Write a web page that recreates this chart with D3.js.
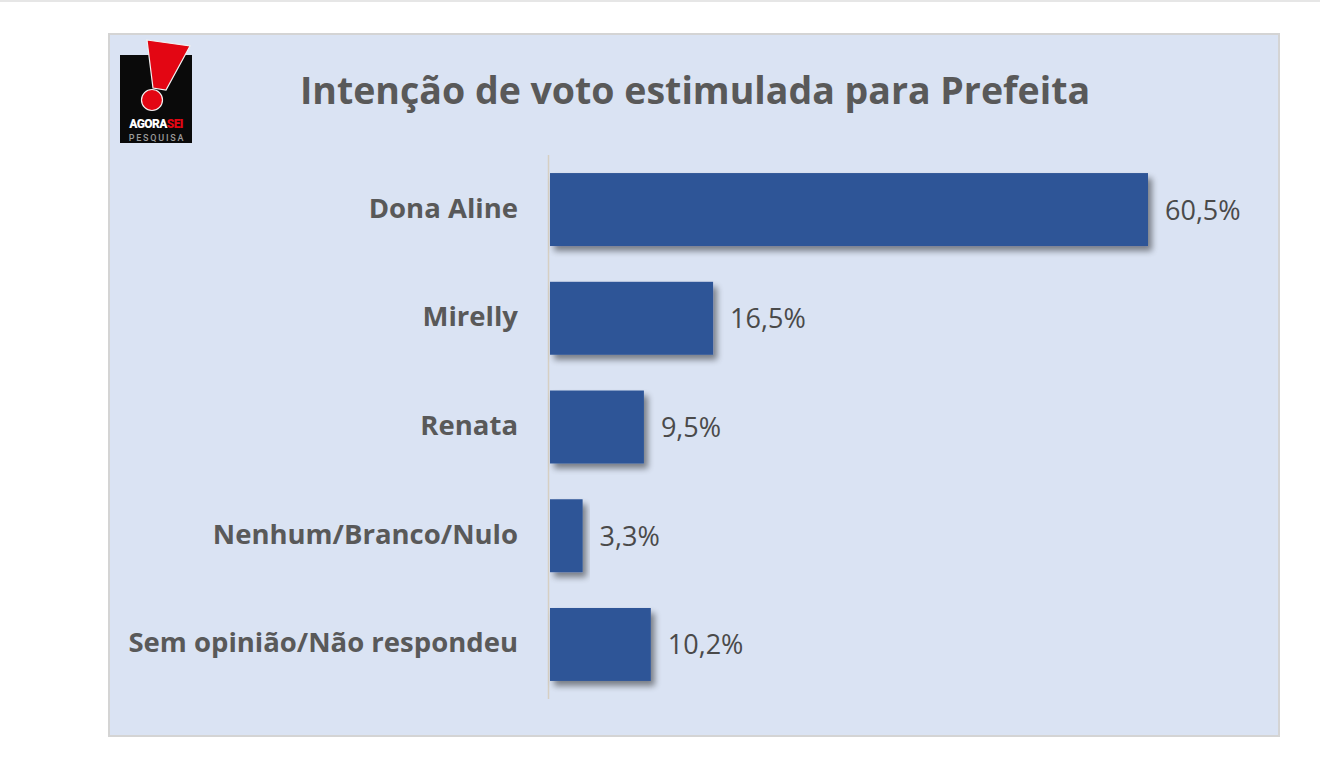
<!DOCTYPE html>
<html><head><meta charset="utf-8">
<script src="https://cdn.jsdelivr.net/npm/d3@7/dist/d3.min.js"></script>
<style>html,body{margin:0;padding:0;background:#fff;}svg{display:block;}</style>
</head><body>
<script>
const categories = ["Dona Aline","Mirelly","Renata","Nenhum/Branco/Nulo","Sem opinião/Não respondeu"];
const values = [60.5,16.5,9.5,3.3,10.2];
const valueLabels = ["60,5%","16,5%","9,5%","3,3%","10,2%"];
const title = "Intenção de voto estimulada para Prefeita";

const W=1320,H=765;
const svg=d3.select("body").append("svg").attr("width",W).attr("height",H);
const defs=svg.append("defs");
const f=defs.append("filter").attr("id","sh").attr("x","-10%").attr("y","-10%").attr("width","130%").attr("height","140%");
f.append("feGaussianBlur").attr("in","SourceAlpha").attr("stdDeviation",3);
f.append("feOffset").attr("dx",4).attr("dy",5).attr("result","b");
f.append("feComponentTransfer").append("feFuncA").attr("type","linear").attr("slope",0.45);
const m=f.append("feMerge");m.append("feMergeNode");m.append("feMergeNode").attr("in","SourceGraphic");

svg.append("rect").attr("x",0).attr("y",0).attr("width",W).attr("height",2).attr("fill","#e6e6e6");
svg.append("rect").attr("x",109).attr("y",34).attr("width",1170).attr("height",702)
  .attr("fill","#dae3f3").attr("stroke","#d4d4d4").attr("stroke-width",2);

// logo
const lg=svg.append("g");
lg.append("rect").attr("x",120).attr("y",55).attr("width",72).attr("height",88).attr("fill","#0a0a0a");
lg.append("path").attr("d","M147,40 L190,46 L166,90 L153,88 Z").attr("fill","#e30613").attr("stroke","#f2f2f2").attr("stroke-width",1.2);
lg.append("circle").attr("cx",152).attr("cy",100).attr("r",10.5).attr("fill","#e30613").attr("stroke","#f2f2f2").attr("stroke-width",1.2);
const lt=lg.append("text").attr("x",156).attr("y",128).attr("text-anchor","middle").attr("font-family","Roboto, sans-serif").attr("font-weight","900").attr("font-size",12).attr("letter-spacing",-0.6);
lt.append("tspan").attr("fill","#ffffff").text("AGORA");
lt.append("tspan").attr("fill","#e30613").text("SEI");
lg.append("text").attr("x",157).attr("y",140.5).attr("text-anchor","middle").attr("font-family","Roboto, sans-serif").attr("font-weight","500").attr("font-size",9).attr("letter-spacing",1.8).attr("fill","#9a9a9a").text("PESQUISA");

svg.append("text").attr("x",695).attr("y",104).attr("text-anchor","middle")
  .attr("font-family","'Open Sans', sans-serif").attr("font-weight","bold").attr("font-size",37.5).attr("fill","#595959").text(title);

const x=d3.scaleLinear().domain([0,60.5]).range([550,1148]);
const y=d3.scaleBand().domain(categories).range([155,699]).paddingInner(0.329).paddingOuter(0.166);

svg.append("line").attr("x1",548.5).attr("x2",548.5).attr("y1",155).attr("y2",699).attr("stroke","#d6cfc2").attr("stroke-width",1.5);

svg.append("g").selectAll("rect").data(values).join("rect")
  .attr("x",x(0)).attr("y",(d,i)=>y(categories[i])).attr("width",d=>x(d)-x(0)).attr("height",y.bandwidth())
  .attr("fill","#2f5597").attr("filter","url(#sh)");

svg.append("g").selectAll("text").data(categories).join("text")
  .attr("x",518).attr("y",d=>y(d)+y.bandwidth()/2+8).attr("text-anchor","end")
  .attr("font-family","'Open Sans', sans-serif").attr("font-weight","bold").attr("font-size",27.5).attr("fill","#595959").text(d=>d);

svg.append("g").selectAll("text").data(values).join("text")
  .attr("x",d=>x(d)+17).attr("y",(d,i)=>y(categories[i])+y.bandwidth()/2+10).attr("text-anchor","start")
  .attr("font-family","'Open Sans', sans-serif").attr("font-size",27).attr("fill","#4a4a4a").text((d,i)=>valueLabels[i]);
</script>
</body></html>
